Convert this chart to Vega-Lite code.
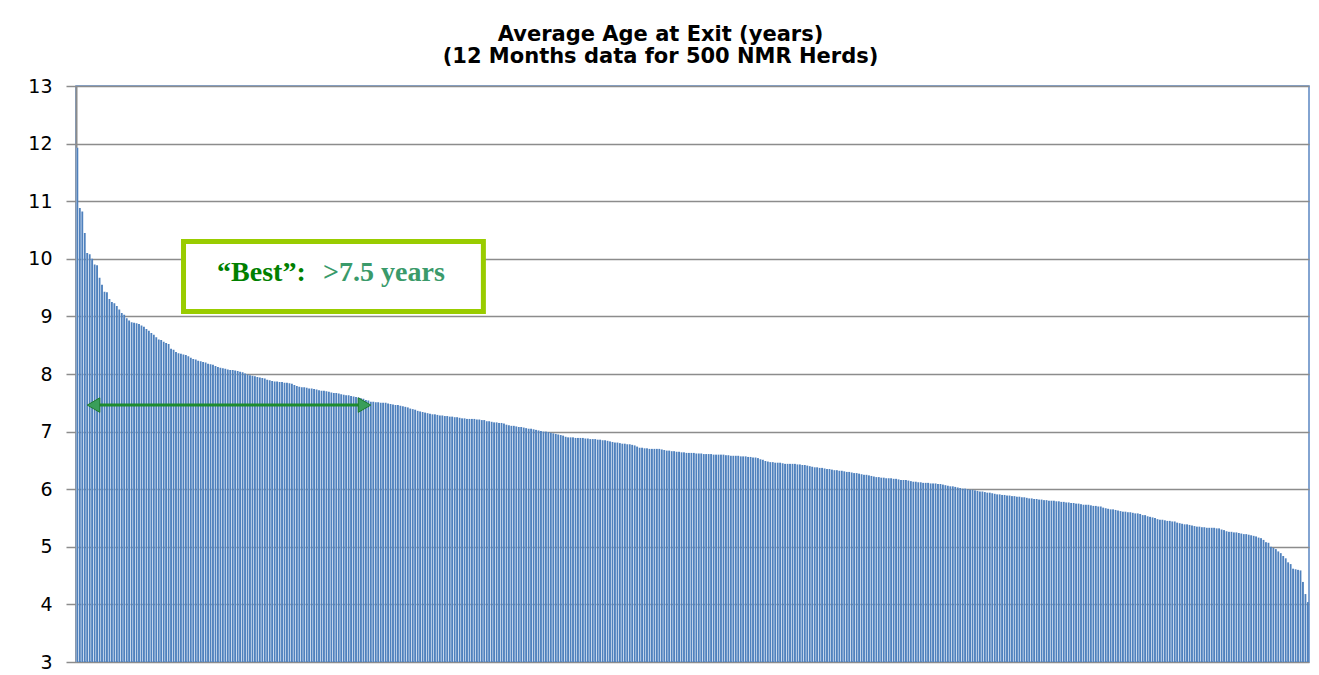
{
"$schema": "https://vega.github.io/schema/vega-lite/v6.json",
"autosize": "none",
"padding": {"left": 76, "top": 86, "right": 10, "bottom": 13},
"width": 1233,
"height": 576,
"background": "white",
"title": {"text": ["Average Age at Exit (years)", "(12 Months data for 500  NMR Herds)"], "font": "DejaVu Sans", "fontWeight": "bold", "fontSize": 21, "lineHeight": 22, "color": "black", "anchor": "middle", "dx": -32, "offset": 10},
"config": {
"view": {"stroke": "#5B87C2", "strokeWidth": 1.5},
"axis": {"labelFont": "DejaVu Sans"}
},
"datasets": {
"herds": [
{"r":1,"v":11.93},{"r":2,"v":10.88},{"r":3,"v":10.82},{"r":4,"v":10.45},{"r":5,"v":10.1},{"r":6,"v":10.08},{"r":7,"v":10.0},{"r":8,"v":9.9},{"r":9,"v":9.89},{"r":10,"v":9.67},
{"r":11,"v":9.55},{"r":12,"v":9.43},{"r":13,"v":9.42},{"r":14,"v":9.3},{"r":15,"v":9.25},{"r":16,"v":9.23},{"r":17,"v":9.18},{"r":18,"v":9.12},{"r":19,"v":9.06},{"r":20,"v":9.03},
{"r":21,"v":8.97},{"r":22,"v":8.93},{"r":23,"v":8.9},{"r":24,"v":8.89},{"r":25,"v":8.88},{"r":26,"v":8.87},{"r":27,"v":8.84},{"r":28,"v":8.82},{"r":29,"v":8.78},{"r":30,"v":8.75},
{"r":31,"v":8.71},{"r":32,"v":8.68},{"r":33,"v":8.64},{"r":34,"v":8.6},{"r":35,"v":8.59},{"r":36,"v":8.56},{"r":37,"v":8.54},{"r":38,"v":8.52},{"r":39,"v":8.44},{"r":40,"v":8.42},
{"r":41,"v":8.38},{"r":42,"v":8.36},{"r":43,"v":8.35},{"r":44,"v":8.34},{"r":45,"v":8.33},{"r":46,"v":8.31},{"r":47,"v":8.28},{"r":48,"v":8.26},{"r":49,"v":8.25},{"r":50,"v":8.23},
{"r":51,"v":8.22},{"r":52,"v":8.21},{"r":53,"v":8.2},{"r":54,"v":8.18},{"r":55,"v":8.17},{"r":56,"v":8.16},{"r":57,"v":8.14},{"r":58,"v":8.12},{"r":59,"v":8.11},{"r":60,"v":8.1},
{"r":61,"v":8.09},{"r":62,"v":8.08},{"r":63,"v":8.07},{"r":64,"v":8.07},{"r":65,"v":8.06},{"r":66,"v":8.05},{"r":67,"v":8.04},{"r":68,"v":8.03},{"r":69,"v":8.01},{"r":70,"v":7.99},
{"r":71,"v":7.98},{"r":72,"v":7.97},{"r":73,"v":7.96},{"r":74,"v":7.95},{"r":75,"v":7.94},{"r":76,"v":7.93},{"r":77,"v":7.92},{"r":78,"v":7.9},{"r":79,"v":7.89},{"r":80,"v":7.88},
{"r":81,"v":7.87},{"r":82,"v":7.87},{"r":83,"v":7.86},{"r":84,"v":7.86},{"r":85,"v":7.85},{"r":86,"v":7.85},{"r":87,"v":7.84},{"r":88,"v":7.83},{"r":89,"v":7.81},{"r":90,"v":7.79},
{"r":91,"v":7.78},{"r":92,"v":7.77},{"r":93,"v":7.77},{"r":94,"v":7.76},{"r":95,"v":7.75},{"r":96,"v":7.75},{"r":97,"v":7.74},{"r":98,"v":7.73},{"r":99,"v":7.72},{"r":100,"v":7.71},
{"r":101,"v":7.71},{"r":102,"v":7.7},{"r":103,"v":7.69},{"r":104,"v":7.68},{"r":105,"v":7.67},{"r":106,"v":7.67},{"r":107,"v":7.66},{"r":108,"v":7.65},{"r":109,"v":7.64},{"r":110,"v":7.63},
{"r":111,"v":7.63},{"r":112,"v":7.62},{"r":113,"v":7.61},{"r":114,"v":7.6},{"r":115,"v":7.59},{"r":116,"v":7.58},{"r":117,"v":7.57},{"r":118,"v":7.55},{"r":119,"v":7.54},{"r":120,"v":7.52},
{"r":121,"v":7.52},{"r":122,"v":7.51},{"r":123,"v":7.51},{"r":124,"v":7.5},{"r":125,"v":7.5},{"r":126,"v":7.5},{"r":127,"v":7.49},{"r":128,"v":7.48},{"r":129,"v":7.47},{"r":130,"v":7.46},
{"r":131,"v":7.46},{"r":132,"v":7.45},{"r":133,"v":7.44},{"r":134,"v":7.43},{"r":135,"v":7.42},{"r":136,"v":7.4},{"r":137,"v":7.39},{"r":138,"v":7.38},{"r":139,"v":7.36},{"r":140,"v":7.35},
{"r":141,"v":7.34},{"r":142,"v":7.33},{"r":143,"v":7.32},{"r":144,"v":7.31},{"r":145,"v":7.3},{"r":146,"v":7.3},{"r":147,"v":7.29},{"r":148,"v":7.28},{"r":149,"v":7.28},{"r":150,"v":7.27},
{"r":151,"v":7.27},{"r":152,"v":7.26},{"r":153,"v":7.26},{"r":154,"v":7.25},{"r":155,"v":7.25},{"r":156,"v":7.24},{"r":157,"v":7.23},{"r":158,"v":7.23},{"r":159,"v":7.22},{"r":160,"v":7.22},
{"r":161,"v":7.22},{"r":162,"v":7.22},{"r":163,"v":7.21},{"r":164,"v":7.21},{"r":165,"v":7.2},{"r":166,"v":7.2},{"r":167,"v":7.18},{"r":168,"v":7.18},{"r":169,"v":7.17},{"r":170,"v":7.16},
{"r":171,"v":7.16},{"r":172,"v":7.15},{"r":173,"v":7.15},{"r":174,"v":7.14},{"r":175,"v":7.12},{"r":176,"v":7.11},{"r":177,"v":7.1},{"r":178,"v":7.1},{"r":179,"v":7.09},{"r":180,"v":7.08},
{"r":181,"v":7.08},{"r":182,"v":7.07},{"r":183,"v":7.06},{"r":184,"v":7.05},{"r":185,"v":7.05},{"r":186,"v":7.04},{"r":187,"v":7.03},{"r":188,"v":7.02},{"r":189,"v":7.01},{"r":190,"v":7.0},
{"r":191,"v":7.0},{"r":192,"v":6.99},{"r":193,"v":6.98},{"r":194,"v":6.97},{"r":195,"v":6.96},{"r":196,"v":6.95},{"r":197,"v":6.94},{"r":198,"v":6.93},{"r":199,"v":6.91},{"r":200,"v":6.9},
{"r":201,"v":6.9},{"r":202,"v":6.9},{"r":203,"v":6.89},{"r":204,"v":6.89},{"r":205,"v":6.89},{"r":206,"v":6.89},{"r":207,"v":6.88},{"r":208,"v":6.88},{"r":209,"v":6.87},{"r":210,"v":6.87},
{"r":211,"v":6.87},{"r":212,"v":6.86},{"r":213,"v":6.86},{"r":214,"v":6.85},{"r":215,"v":6.85},{"r":216,"v":6.84},{"r":217,"v":6.83},{"r":218,"v":6.82},{"r":219,"v":6.81},{"r":220,"v":6.81},
{"r":221,"v":6.8},{"r":222,"v":6.79},{"r":223,"v":6.79},{"r":224,"v":6.78},{"r":225,"v":6.78},{"r":226,"v":6.77},{"r":227,"v":6.76},{"r":228,"v":6.74},{"r":229,"v":6.72},{"r":230,"v":6.72},
{"r":231,"v":6.71},{"r":232,"v":6.71},{"r":233,"v":6.7},{"r":234,"v":6.7},{"r":235,"v":6.7},{"r":236,"v":6.7},{"r":237,"v":6.7},{"r":238,"v":6.69},{"r":239,"v":6.68},{"r":240,"v":6.67},
{"r":241,"v":6.67},{"r":242,"v":6.66},{"r":243,"v":6.66},{"r":244,"v":6.65},{"r":245,"v":6.65},{"r":246,"v":6.64},{"r":247,"v":6.64},{"r":248,"v":6.63},{"r":249,"v":6.63},{"r":250,"v":6.63},
{"r":251,"v":6.63},{"r":252,"v":6.62},{"r":253,"v":6.62},{"r":254,"v":6.62},{"r":255,"v":6.61},{"r":256,"v":6.61},{"r":257,"v":6.61},{"r":258,"v":6.61},{"r":259,"v":6.6},{"r":260,"v":6.6},
{"r":261,"v":6.6},{"r":262,"v":6.6},{"r":263,"v":6.6},{"r":264,"v":6.59},{"r":265,"v":6.59},{"r":266,"v":6.58},{"r":267,"v":6.58},{"r":268,"v":6.58},{"r":269,"v":6.58},{"r":270,"v":6.57},
{"r":271,"v":6.57},{"r":272,"v":6.57},{"r":273,"v":6.56},{"r":274,"v":6.56},{"r":275,"v":6.55},{"r":276,"v":6.55},{"r":277,"v":6.54},{"r":278,"v":6.52},{"r":279,"v":6.51},{"r":280,"v":6.49},
{"r":281,"v":6.48},{"r":282,"v":6.47},{"r":283,"v":6.47},{"r":284,"v":6.46},{"r":285,"v":6.46},{"r":286,"v":6.46},{"r":287,"v":6.45},{"r":288,"v":6.44},{"r":289,"v":6.44},{"r":290,"v":6.44},
{"r":291,"v":6.44},{"r":292,"v":6.44},{"r":293,"v":6.43},{"r":294,"v":6.43},{"r":295,"v":6.42},{"r":296,"v":6.42},{"r":297,"v":6.41},{"r":298,"v":6.4},{"r":299,"v":6.39},{"r":300,"v":6.38},
{"r":301,"v":6.38},{"r":302,"v":6.37},{"r":303,"v":6.37},{"r":304,"v":6.36},{"r":305,"v":6.35},{"r":306,"v":6.35},{"r":307,"v":6.34},{"r":308,"v":6.33},{"r":309,"v":6.33},{"r":310,"v":6.32},
{"r":311,"v":6.32},{"r":312,"v":6.31},{"r":313,"v":6.3},{"r":314,"v":6.3},{"r":315,"v":6.29},{"r":316,"v":6.28},{"r":317,"v":6.28},{"r":318,"v":6.27},{"r":319,"v":6.26},{"r":320,"v":6.25},
{"r":321,"v":6.25},{"r":322,"v":6.24},{"r":323,"v":6.23},{"r":324,"v":6.22},{"r":325,"v":6.21},{"r":326,"v":6.21},{"r":327,"v":6.2},{"r":328,"v":6.2},{"r":329,"v":6.19},{"r":330,"v":6.19},
{"r":331,"v":6.19},{"r":332,"v":6.18},{"r":333,"v":6.18},{"r":334,"v":6.17},{"r":335,"v":6.16},{"r":336,"v":6.16},{"r":337,"v":6.16},{"r":338,"v":6.15},{"r":339,"v":6.14},{"r":340,"v":6.13},
{"r":341,"v":6.13},{"r":342,"v":6.12},{"r":343,"v":6.12},{"r":344,"v":6.11},{"r":345,"v":6.11},{"r":346,"v":6.11},{"r":347,"v":6.1},{"r":348,"v":6.1},{"r":349,"v":6.1},{"r":350,"v":6.09},
{"r":351,"v":6.09},{"r":352,"v":6.08},{"r":353,"v":6.07},{"r":354,"v":6.06},{"r":355,"v":6.05},{"r":356,"v":6.05},{"r":357,"v":6.04},{"r":358,"v":6.03},{"r":359,"v":6.02},{"r":360,"v":6.01},
{"r":361,"v":6.01},{"r":362,"v":6.0},{"r":363,"v":5.99},{"r":364,"v":5.99},{"r":365,"v":5.98},{"r":366,"v":5.97},{"r":367,"v":5.96},{"r":368,"v":5.96},{"r":369,"v":5.95},{"r":370,"v":5.94},
{"r":371,"v":5.94},{"r":372,"v":5.93},{"r":373,"v":5.92},{"r":374,"v":5.91},{"r":375,"v":5.91},{"r":376,"v":5.9},{"r":377,"v":5.9},{"r":378,"v":5.89},{"r":379,"v":5.89},{"r":380,"v":5.88},
{"r":381,"v":5.88},{"r":382,"v":5.87},{"r":383,"v":5.87},{"r":384,"v":5.86},{"r":385,"v":5.86},{"r":386,"v":5.85},{"r":387,"v":5.84},{"r":388,"v":5.84},{"r":389,"v":5.83},{"r":390,"v":5.83},
{"r":391,"v":5.82},{"r":392,"v":5.82},{"r":393,"v":5.81},{"r":394,"v":5.81},{"r":395,"v":5.8},{"r":396,"v":5.8},{"r":397,"v":5.8},{"r":398,"v":5.79},{"r":399,"v":5.79},{"r":400,"v":5.78},
{"r":401,"v":5.78},{"r":402,"v":5.77},{"r":403,"v":5.77},{"r":404,"v":5.76},{"r":405,"v":5.76},{"r":406,"v":5.75},{"r":407,"v":5.75},{"r":408,"v":5.74},{"r":409,"v":5.73},{"r":410,"v":5.73},
{"r":411,"v":5.73},{"r":412,"v":5.72},{"r":413,"v":5.71},{"r":414,"v":5.71},{"r":415,"v":5.7},{"r":416,"v":5.7},{"r":417,"v":5.68},{"r":418,"v":5.67},{"r":419,"v":5.66},{"r":420,"v":5.65},
{"r":421,"v":5.65},{"r":422,"v":5.64},{"r":423,"v":5.63},{"r":424,"v":5.62},{"r":425,"v":5.61},{"r":426,"v":5.61},{"r":427,"v":5.6},{"r":428,"v":5.6},{"r":429,"v":5.59},{"r":430,"v":5.58},
{"r":431,"v":5.58},{"r":432,"v":5.57},{"r":433,"v":5.55},{"r":434,"v":5.55},{"r":435,"v":5.53},{"r":436,"v":5.52},{"r":437,"v":5.51},{"r":438,"v":5.5},{"r":439,"v":5.48},{"r":440,"v":5.47},
{"r":441,"v":5.47},{"r":442,"v":5.46},{"r":443,"v":5.45},{"r":444,"v":5.45},{"r":445,"v":5.44},{"r":446,"v":5.44},{"r":447,"v":5.42},{"r":448,"v":5.41},{"r":449,"v":5.4},{"r":450,"v":5.39},
{"r":451,"v":5.39},{"r":452,"v":5.38},{"r":453,"v":5.37},{"r":454,"v":5.36},{"r":455,"v":5.35},{"r":456,"v":5.35},{"r":457,"v":5.34},{"r":458,"v":5.34},{"r":459,"v":5.33},{"r":460,"v":5.33},
{"r":461,"v":5.33},{"r":462,"v":5.33},{"r":463,"v":5.32},{"r":464,"v":5.32},{"r":465,"v":5.3},{"r":466,"v":5.29},{"r":467,"v":5.27},{"r":468,"v":5.26},{"r":469,"v":5.26},{"r":470,"v":5.25},
{"r":471,"v":5.25},{"r":472,"v":5.24},{"r":473,"v":5.23},{"r":474,"v":5.22},{"r":475,"v":5.22},{"r":476,"v":5.21},{"r":477,"v":5.2},{"r":478,"v":5.19},{"r":479,"v":5.18},{"r":480,"v":5.16},
{"r":481,"v":5.15},{"r":482,"v":5.12},{"r":483,"v":5.08},{"r":484,"v":5.07},{"r":485,"v":5.0},{"r":486,"v":4.98},{"r":487,"v":4.96},{"r":488,"v":4.92},{"r":489,"v":4.89},{"r":490,"v":4.84},
{"r":491,"v":4.8},{"r":492,"v":4.73},{"r":493,"v":4.7},{"r":494,"v":4.62},{"r":495,"v":4.61},{"r":496,"v":4.6},{"r":497,"v":4.59},{"r":498,"v":4.39},{"r":499,"v":4.18},{"r":500,"v":4.04}
]
},
"layer": [
{
"data": {"name": "herds"},
"mark": {"type": "bar", "width": 2.1, "color": {"gradient": "linear", "x1": 0, "x2": 1, "y1": 0, "y2": 0, "stops": [{"offset": 0, "color": "#B4CAE8"}, {"offset": 0.35, "color": "#4F81BD"}, {"offset": 1, "color": "#4F81BD"}]}},
"encoding": {
"x": {"field": "r", "type": "quantitative", "scale": {"domain": [0.5, 500.5], "nice": false, "zero": false, "padding": 0}, "axis": null},
"y": {"field": "v", "type": "quantitative", "scale": {"domain": [3, 13], "nice": false, "zero": false}, "axis": {"values": [3,4,5,6,7,8,9,10,11,12,13], "format": "d", "title": null, "labelFontSize": 19, "labelColor": "black", "labelPadding": 14, "tickSize": 10, "tickColor": "#8C8C8C", "tickWidth": 1.5, "domainColor": "#8C8C8C", "domainWidth": 2, "gridColor": "#8C8C8C", "gridWidth": 1.5, "grid": true}},
"y2": {"datum": 3}
}
},
{
"data": {"values": [{}]},
"mark": {"type": "rect", "fill": "white", "stroke": "#99CC00", "strokeWidth": 5},
"encoding": {"x": {"datum": 44.1}, "x2": {"datum": 165.7}, "y": {"datum": 10.3}, "y2": {"datum": 9.085}}
},
{
"data": {"values": [{}]},
"mark": {"type": "text", "text": "\u201cBest\u201d:", "font": "Liberation Serif", "fontWeight": "bold", "fontSize": 28, "color": "#008000", "align": "left", "baseline": "alphabetic"},
"encoding": {"x": {"datum": 57.7}, "y": {"datum": 9.62}}
},
{
"data": {"values": [{}]},
"mark": {"type": "text", "text": ">7.5 years", "font": "Liberation Serif", "fontWeight": "bold", "fontSize": 28, "color": "#3A9A6A", "align": "left", "baseline": "alphabetic"},
"encoding": {"x": {"datum": 100.7}, "y": {"datum": 9.62}}
},
{
"data": {"values": [{}]},
"mark": {"type": "rule", "stroke": "#1E8C2E", "strokeWidth": 3},
"encoding": {"x": {"datum": 7.6}, "x2": {"datum": 117.5}, "y": {"datum": 7.46}}
},
{
"data": {"values": [{}]},
"mark": {"type": "point", "shape": "triangle-left", "size": 210, "filled": true, "fill": "#3A9E5A", "stroke": "#1E7A2E", "strokeWidth": 1, "opacity": 1},
"encoding": {"x": {"datum": 7.6}, "y": {"datum": 7.46}}
},
{
"data": {"values": [{}]},
"mark": {"type": "point", "shape": "triangle-right", "size": 210, "filled": true, "fill": "#3A9E5A", "stroke": "#1E7A2E", "strokeWidth": 1, "opacity": 1},
"encoding": {"x": {"datum": 117.5}, "y": {"datum": 7.46}}
}
]
}
